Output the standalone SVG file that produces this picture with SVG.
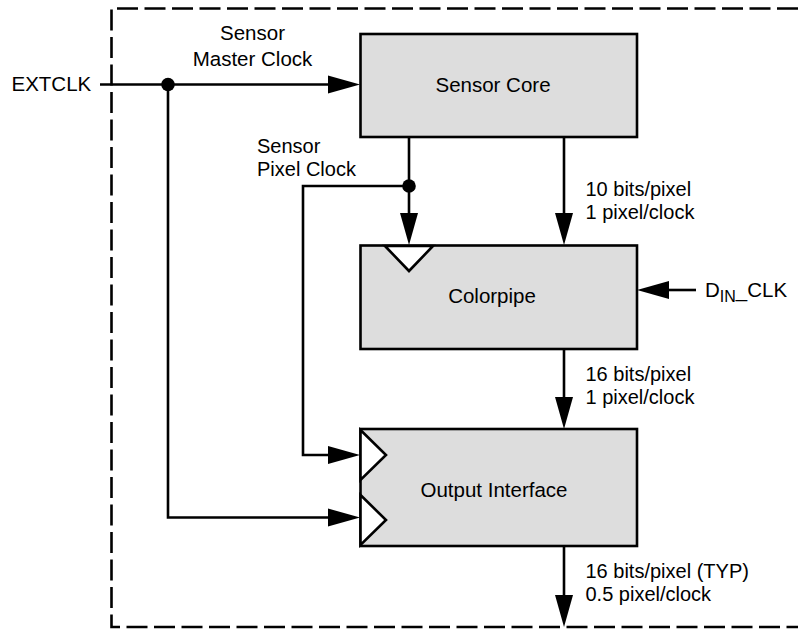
<svg xmlns="http://www.w3.org/2000/svg" width="798" height="629" viewBox="0 0 798 629">
<style>
text{font-family:"Liberation Sans",Arial,Helvetica,sans-serif;font-size:20.5px;fill:#000}
text.lbl{font-size:20px}
.box{fill:#dddddd;stroke:#000;stroke-width:2.6}
.clk{fill:#fff;stroke:#000;stroke-width:2.6;stroke-linejoin:miter}
.wire{fill:none;stroke:#000;stroke-width:2.6}
.head{fill:#000;stroke:none}
.border{fill:none;stroke:#000;stroke-width:2.6;stroke-dasharray:21 6.5}
.mid{text-anchor:middle}
</style>
<rect width="798" height="629" fill="#fff"/>
<path class="border" d="M798 8.5 H111.5 V627 H798"/>
<g id="sensor-core">
<rect class="box" x="360.5" y="34" width="276.5" height="103"/>
<text class="mid" x="493" y="92">Sensor Core</text>
</g>
<g id="colorpipe">
<rect class="box" x="360.5" y="245.5" width="276.5" height="103.5"/>
<polygon class="clk" points="385,246 409,271 433,246"/>
<text class="mid" x="492" y="303">Colorpipe</text>
</g>
<g id="output-interface">
<rect class="box" x="360.5" y="429" width="276.5" height="117"/>
<polygon class="clk" points="360.5,430 386,455 360.5,480"/>
<polygon class="clk" points="360.5,495 386,520 360.5,545"/>
<text class="mid" x="494" y="497">Output Interface</text>
</g>
<g id="extclk">
<text x="11.5" y="91">EXTCLK</text>
</g>
<g id="din-clk">
<text x="705" y="297">D<tspan font-size="16" dy="5">IN</tspan><tspan dy="-5">_CLK</tspan></text>
</g>
<g id="connectors">
<path class="wire" d="M100 84.5 H330"/>
<polygon class="head" points="360,84.5 328,75.5 328,93.5"/>
<circle cx="168" cy="84.5" r="6.8"/>
<path class="wire" d="M168 84.5 V517.5 H330"/>
<polygon class="head" points="360,517.5 328,508.5 328,526.5"/>
<path class="wire" d="M409 137 V215"/>
<polygon class="head" points="409,245 400,213 418,213"/>
<circle cx="409" cy="186" r="6.8"/>
<path class="wire" d="M409 186 H303 V455 H330"/>
<polygon class="head" points="360,455 328,446 328,464"/>
<path class="wire" d="M564 137 V215"/>
<polygon class="head" points="564,245 555,213 573,213"/>
<path class="wire" d="M564 349 V399"/>
<polygon class="head" points="564,429 555,397 573,397"/>
<path class="wire" d="M564 546 V597"/>
<polygon class="head" points="564,627 555,595 573,595"/>
<path class="wire" d="M696 290 H666"/>
<polygon class="head" points="637,290 669,281 669,299"/>
<text class="mid" x="252.5" y="39.5">Sensor<tspan x="252.5" dy="26.5">Master Clock</tspan></text>
<text class="lbl" x="257" y="153">Sensor<tspan x="257" dy="22.5">Pixel Clock</tspan></text>
<text class="lbl" x="585.5" y="196">10 bits/pixel<tspan x="585.5" dy="22.5">1 pixel/clock</tspan></text>
<text class="lbl" x="585.5" y="381">16 bits/pixel<tspan x="585.5" dy="22.5">1 pixel/clock</tspan></text>
<text class="lbl" x="585.5" y="578">16 bits/pixel (TYP)<tspan x="585.5" dy="22.5">0.5 pixel/clock</tspan></text>
</g>
</svg>
